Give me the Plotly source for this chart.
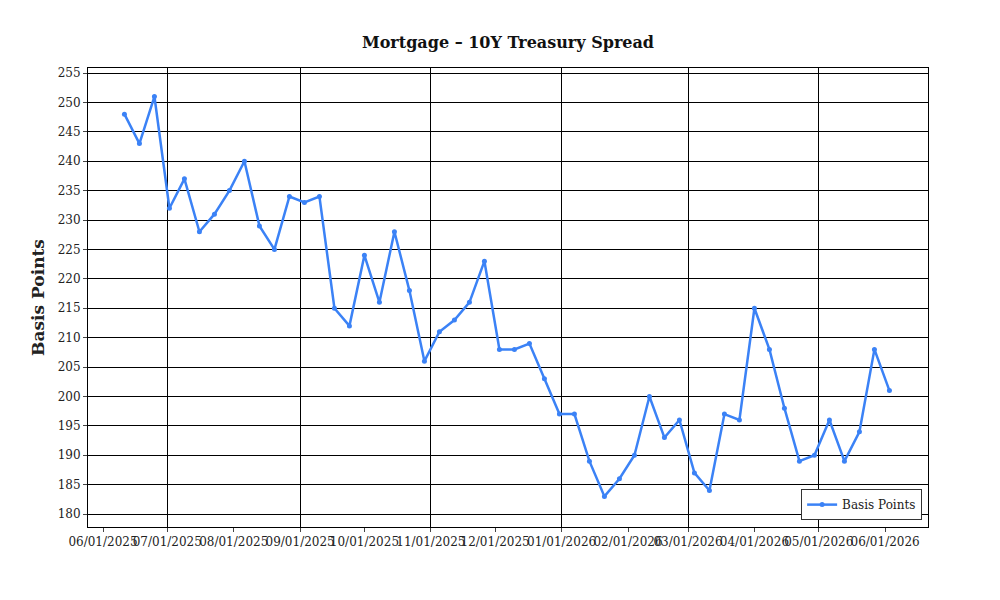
import plotly.graph_objects as go
import pandas as pd

dates = pd.date_range("2025-06-11", periods=52, freq="7D")
values = [248, 243, 251, 232, 237, 228, 231, 235, 240, 229, 225, 234, 233, 234, 215, 212, 224, 216, 228, 218,
          206, 211, 213, 216, 223, 208, 208, 209, 203, 197, 197, 189, 183, 186, 190, 200, 193, 196, 187, 184,
          197, 196, 215, 208, 198, 189, 190, 196, 189, 194, 208, 201]

font = "DejaVu Serif"
fig = go.Figure()
fig.add_trace(go.Scatter(x=dates, y=values, mode="lines+markers", name="Basis Points",
                         line=dict(color="#3b82f6", width=2.5), marker=dict(size=5, color="#3b82f6")))
fig.add_trace(go.Scatter(x=dates, y=values, xaxis="x2", mode="lines", opacity=0,
                         showlegend=False, hoverinfo="skip"))
xr = ["2025-05-25", "2026-06-21"]
fig.update_layout(
    width=1000, height=600, plot_bgcolor="white", paper_bgcolor="white",
    font=dict(family=font, size=12, color="#222"),
    title=dict(text="<b>Mortgage – 10Y Treasury Spread</b>", x=0.5, y=0.943, yanchor="middle",
               font=dict(size=16, color="#111")),
    margin=dict(l=80, r=80, t=60, b=81),
    xaxis=dict(range=xr, tickformat="%m/%d/%Y", dtick="M1", tick0="2025-06-01", showgrid=False,
               tickangle=0, automargin=False,
               showline=True, linecolor="black", mirror=True, ticks="outside", ticklen=4, zeroline=False),
    xaxis2=dict(range=xr, overlaying="x", dtick="M2", tick0="2025-07-01", showgrid=True,
                gridcolor="black", gridwidth=1, showticklabels=False, automargin=False),
    yaxis=dict(range=[177.8, 255.85], dtick=5, showgrid=True, gridcolor="black", gridwidth=1,
               automargin=False,
               showline=True, linecolor="black", mirror=True, ticks="outside", ticklen=4, zeroline=False,
               title=dict(text="<b>Basis Points</b>", font=dict(size=17), standoff=8)),
    legend=dict(x=0.993, y=0.015, xanchor="right", yanchor="bottom", bgcolor="white",
                bordercolor="#333", borderwidth=1, font=dict(size=12)),
    showlegend=True,
)
fig.write_html("out.html")
